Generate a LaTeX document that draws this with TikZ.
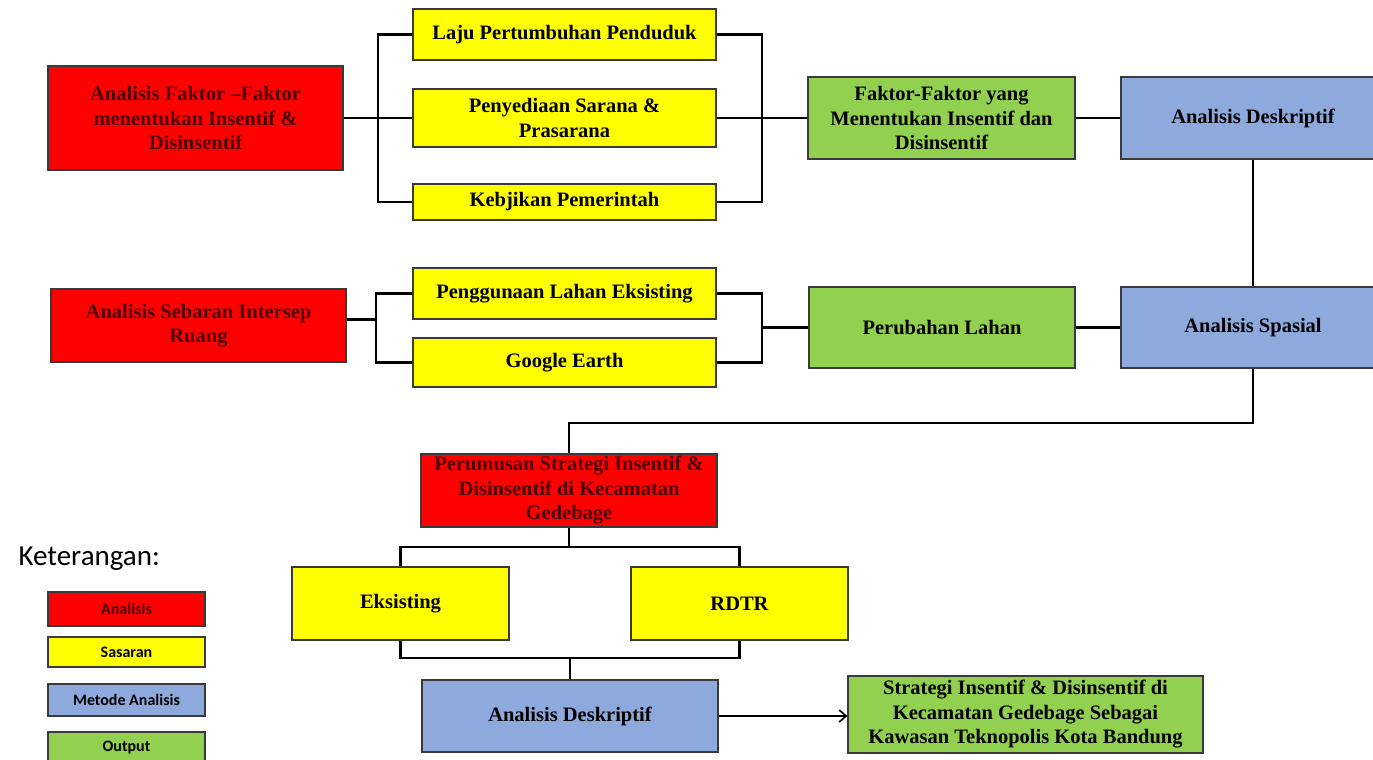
\documentclass[tikz,border=0pt]{standalone}
\usepackage{fontspec}
\setmainfont{Liberation Serif}
\newfontfamily\legendfont{Carlito}
\usetikzlibrary{arrows.meta}
\definecolor{cRed}{HTML}{FF0000}
\definecolor{cYel}{HTML}{FFFF00}
\definecolor{cBlue}{HTML}{8EA9DB}
\definecolor{cGreen}{HTML}{92D050}
\definecolor{cBorder}{HTML}{3A3A3A}
\definecolor{cRedText}{HTML}{4A0000}
\tikzset{
  box/.style={draw=cBorder, line width=1.2pt, rectangle, inner sep=0pt, align=center,
    font=\fontsize{20.5}{24.5}\selectfont\bfseries, text=black},
  redbox/.style={box, fill=cRed, text=cRedText},
  yelbox/.style={box, fill=cYel},
  bluebox/.style={box, fill=cBlue},
  greenbox/.style={box, fill=cGreen},
  legbox/.style={draw=cBorder, line width=1.2pt, rectangle, inner sep=0pt, align=center,
    font=\legendfont\fontsize{16}{18}\selectfont\bfseries, minimum width=157pt, text=black},
  conn/.style={line width=2.2pt, black},
}
\begin{document}
\begin{tikzpicture}[x=1pt, y=-1pt]
\useasboundingbox (0,0) rectangle (1373,760);
\fill[white] (0,0) rectangle (1373,760);

% Row 1
\node[redbox, minimum width=295pt, minimum height=104pt] (A1) at (195.5,118)
  {Analisis Faktor --Faktor\\menentukan Insentif \&\\Disinsentif};
\node[yelbox, minimum width=303pt, minimum height=51pt] (Y1) at (564.5,34.5) {Laju Pertumbuhan Penduduk};
\node[yelbox, minimum width=303pt, minimum height=58pt] (Y2) at (564.5,118) {Penyediaan Sarana \&\\Prasarana};
\node[yelbox, minimum width=303pt, minimum height=36pt] (Y3) at (564.5,202) {Kebjikan Pemerintah};
\node[greenbox, minimum width=267pt, minimum height=82pt] (G1) at (941.5,118)
  {Faktor-Faktor yang\\Menentukan Insentif dan\\Disinsentif};
\node[bluebox, minimum width=264pt, minimum height=82pt] (B1) at (1253,118) {Analisis Deskriptif};

% Row 2
\node[redbox, minimum width=295pt, minimum height=73pt] (A2) at (198.5,325.5)
  {Analisis Sebaran Intersep\\Ruang};
\node[yelbox, minimum width=303pt, minimum height=51pt] (Y4) at (564.5,293.5) {Penggunaan Lahan Eksisting};
\node[yelbox, minimum width=303pt, minimum height=49pt] (Y5) at (564.5,362.5) {Google Earth};
\node[greenbox, minimum width=266pt, minimum height=81pt] (G2) at (942,327.5) {Perubahan Lahan};
\node[bluebox, minimum width=264pt, minimum height=81pt] (B2) at (1253,327.5) {Analisis Spasial};

% Row 3
\node[redbox, minimum width=296pt, minimum height=73pt] (R3) at (569,490.5)
  {Perumusan Strategi Insentif \&\\Disinsentif di Kecamatan\\Gedebage};
\node[yelbox, minimum width=217pt, minimum height=73pt] (E) at (400.5,603.5) {Eksisting};
\node[yelbox, minimum width=217pt, minimum height=73pt] (RD) at (739.5,603.5) {RDTR};
\node[bluebox, minimum width=296pt, minimum height=72pt] (B3) at (570,716) {Analisis Deskriptif};
\node[greenbox, minimum width=355pt, minimum height=77pt] (G3) at (1025.5,714.5)
  {Strategi Insentif \& Disinsentif di\\Kecamatan Gedebage Sebagai\\Kawasan Teknopolis Kota Bandung};

% Legend
\node[anchor=base west, font=\legendfont\fontsize{29}{33}\selectfont] (KT) at (15,565) {Keterangan:};
\node[legbox, fill=cRed, minimum height=34pt, text=cRedText] (L1) at (126.5,609) {Analisis};
\node[legbox, fill=cYel, minimum height=30pt] (L2) at (126.5,652) {Sasaran};
\node[legbox, fill=cBlue, minimum height=32pt] (L3) at (126.5,700) {Metode Analisis};
\node[legbox, fill=cGreen, minimum height=32pt] (L4) at (126.5,748) {Output};

% Connector coordinates
\coordinate (bL1) at (378,118);
\coordinate (bR1) at (762,118);
\coordinate (bL2) at (376,328);
\coordinate (bR2) at (762,327.5);
\coordinate (c3) at (569,423);
\coordinate (cT) at (569,547);
\coordinate (cD) at (570,658);

% Connectors row 1
\draw[conn] (A1.east) -- (Y2.west);
\draw[conn] (Y1.west) -| (bL1) |- (Y3.west);
\draw[conn] (Y1.east) -| (bR1) |- (Y3.east);
\draw[conn] (Y2.east) -- (G1.west);
\draw[conn] (G1.east) -- (B1.west);
\draw[conn] (B1.south) -- (B2.north);

% Connectors row 2
\draw[conn] ([yshift=6pt]A2.east) -- ([yshift=6pt]A2.east -| bL2);
\draw[conn] (Y4.west) -| (bL2) |- (Y5.west);
\draw[conn] (Y4.east) -| (bR2) |- (Y5.east);
\draw[conn] (bR2) -- (G2.west);
\draw[conn] (G2.east) -- (B2.west);

% Connectors row 3
\draw[conn] (B2.south) |- (c3) -- (R3.north);
\draw[conn] (R3.south) -- (cT);
\draw[conn] (E.north) |- (cT) -| (RD.north);
\draw[conn] (E.south) |- (cD) -| (RD.south);
\draw[conn] (cD) -- (B3.north);
\draw[conn, -{Straight Barb[length=7pt, width=12pt, line width=1.6pt]}] (B3.east) -- (B3.east -| G3.west);
\end{tikzpicture}
\end{document}
